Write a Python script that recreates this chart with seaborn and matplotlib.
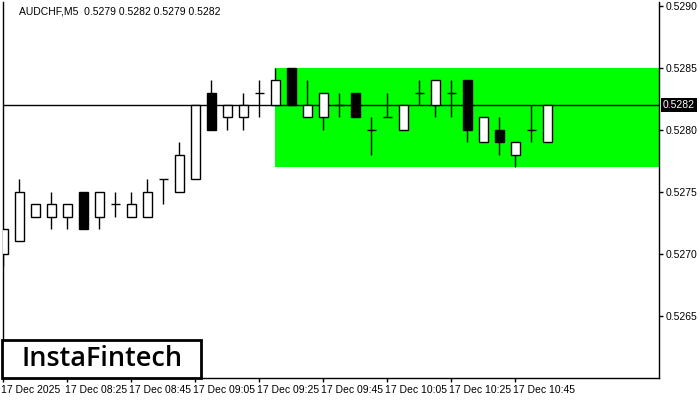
import numpy as np
import pandas as pd
import matplotlib
matplotlib.use("Agg")
import matplotlib.pyplot as plt
import matplotlib.transforms as mtransforms
from matplotlib.patches import Rectangle
import seaborn as sns

# ── Données (AUDCHF, M5) ────────────────────────────────────────
open_ = [0.5270, 0.5271, 0.5273, 0.5273, 0.5273, 0.5275, 0.5273, 0.5274, 0.5273, 0.5273,
         0.5276, 0.5275, 0.5276, 0.5283, 0.5281, 0.5281, 0.5283, 0.5282, 0.5285, 0.5281,
         0.5281, 0.5282, 0.5283, 0.5280, 0.5281, 0.5280, 0.5283, 0.5282, 0.5283, 0.5284,
         0.5279, 0.5280, 0.5278, 0.5280, 0.5279]
high = [0.5272, 0.5276, 0.5274, 0.5275, 0.5274, 0.5275, 0.5275, 0.5275, 0.5275, 0.5276,
        0.5276, 0.5279, 0.5282, 0.5284, 0.5282, 0.5283, 0.5284, 0.5285, 0.5285, 0.5284,
        0.5283, 0.5283, 0.5283, 0.5281, 0.5283, 0.5282, 0.5284, 0.5284, 0.5284, 0.5284,
        0.5281, 0.5281, 0.5279, 0.5282, 0.5282]
low = [0.5269, 0.5271, 0.5273, 0.5272, 0.5272, 0.5272, 0.5272, 0.5273, 0.5273, 0.5273,
       0.5274, 0.5275, 0.5276, 0.5280, 0.5280, 0.5280, 0.5281, 0.5282, 0.5282, 0.5281,
       0.5280, 0.5281, 0.5281, 0.5278, 0.5281, 0.5280, 0.5282, 0.5281, 0.5281, 0.5279,
       0.5279, 0.5278, 0.5277, 0.5279, 0.5279]
close = [0.5272, 0.5275, 0.5274, 0.5274, 0.5274, 0.5272, 0.5275, 0.5274, 0.5274, 0.5275,
         0.5276, 0.5278, 0.5282, 0.5280, 0.5282, 0.5282, 0.5283, 0.5284, 0.5282, 0.5282,
         0.5283, 0.5282, 0.5281, 0.5280, 0.5281, 0.5282, 0.5283, 0.5284, 0.5283, 0.5280,
         0.5281, 0.5279, 0.5279, 0.5280, 0.5282]

# Rectangle (zone verte) et prix courant
rect_start = 17
rect_top = 0.5285
rect_bottom = 0.5277
last_price = 0.5282

# Axes
x_tick_idx = [0, 4, 8, 12, 16, 20, 24, 28, 32]
x_tick_labels = ["17 Dec 2025", "17 Dec 08:25", "17 Dec 08:45", "17 Dec 09:05",
                 "17 Dec 09:25", "17 Dec 09:45", "17 Dec 10:05", "17 Dec 10:25",
                 "17 Dec 10:45"]
y_ticks = [0.5265, 0.5270, 0.5275, 0.5280, 0.5285, 0.5290]
title = "AUDCHF,M5  0.5279 0.5282 0.5279 0.5282"

df = pd.DataFrame({"open": open_, "high": high, "low": low, "close": close})
df["idx"] = np.arange(len(df))
df["up"] = df["close"] >= df["open"]

# ── Style ───────────────────────────────────────────────────────
sns.set_theme(style="white")
plt.rcParams["font.family"] = ["Liberation Sans", "DejaVu Sans"]

fig = plt.figure(figsize=(7, 4), dpi=100)
ax = fig.add_axes([2.7 / 700, 1 - 378 / 400, (659 - 2.7) / 700, (378 - 2) / 400])

# zone verte
ax.add_patch(Rectangle((rect_start, rect_bottom), 100, rect_top - rect_bottom,
                       facecolor="#00ff00", edgecolor="none", zorder=1))

# ligne du prix courant
ax.axhline(last_price, color="black", lw=1, zorder=2)

# mèches
ax.vlines(df["idx"], df["low"], df["high"], color="black", lw=1, zorder=3)

# corps des bougies
body_bottom = df[["open", "close"]].min(axis=1)
body_height = (df["close"] - df["open"]).abs()
colors = np.where(df["up"], "white", "black")
ax.bar(df["idx"], body_height, bottom=body_bottom, width=0.58,
       color=colors, edgecolor="black", linewidth=1, zorder=4)

ax.set_xlim(-0.04, 40.98)
ax.set_ylim(0.52600, 0.52903)

# ticks
ax.yaxis.tick_right()
ax.set_yticks(y_ticks)
ax.set_yticklabels([f"{v:.4f}" for v in y_ticks], fontsize=7.5)
ax.set_xticks(x_tick_idx)
ax.set_xticklabels(x_tick_labels, fontsize=7.5, ha="left")
ax.tick_params(axis="both", direction="out", length=3, width=1, color="black",
               labelcolor="black", pad=2, bottom=True, right=True, left=False)
for lbl in ax.get_xticklabels():
    lbl.set_transform(lbl.get_transform() + mtransforms.ScaledTranslation(-2 / 100, 0, fig.dpi_scale_trans))

for side in ["left", "right", "bottom"]:
    ax.spines[side].set_color("black")
    ax.spines[side].set_linewidth(1)
ax.spines["top"].set_visible(False)

# étiquette du prix courant
trans = mtransforms.blended_transform_factory(ax.transAxes, ax.transData)
ax.text(1.006, last_price, f"{last_price:.4f}", transform=trans, fontsize=7.5,
        color="white", va="center", ha="left",
        bbox=dict(facecolor="black", edgecolor="none", pad=1.2), clip_on=False, zorder=6)

# titre
fig.text(19 / 700, 1 - 11 / 400, title, fontsize=7.5, va="center", ha="left",
         color="black", backgroundcolor="white")

# logo
fig.patches.append(Rectangle((2 / 700, 22 / 400), 199 / 700, 38 / 400,
                             transform=fig.transFigure, facecolor="white",
                             edgecolor="black", linewidth=2, zorder=10))
fig.text(102 / 700, 1 - 359 / 400, "InstaFintech", fontsize=19.5, ha="center",
         va="center", color="black", weight="semibold",
         family=["Open Sans", "DejaVu Sans"], zorder=11)

plt.savefig("out.png", dpi=100)
